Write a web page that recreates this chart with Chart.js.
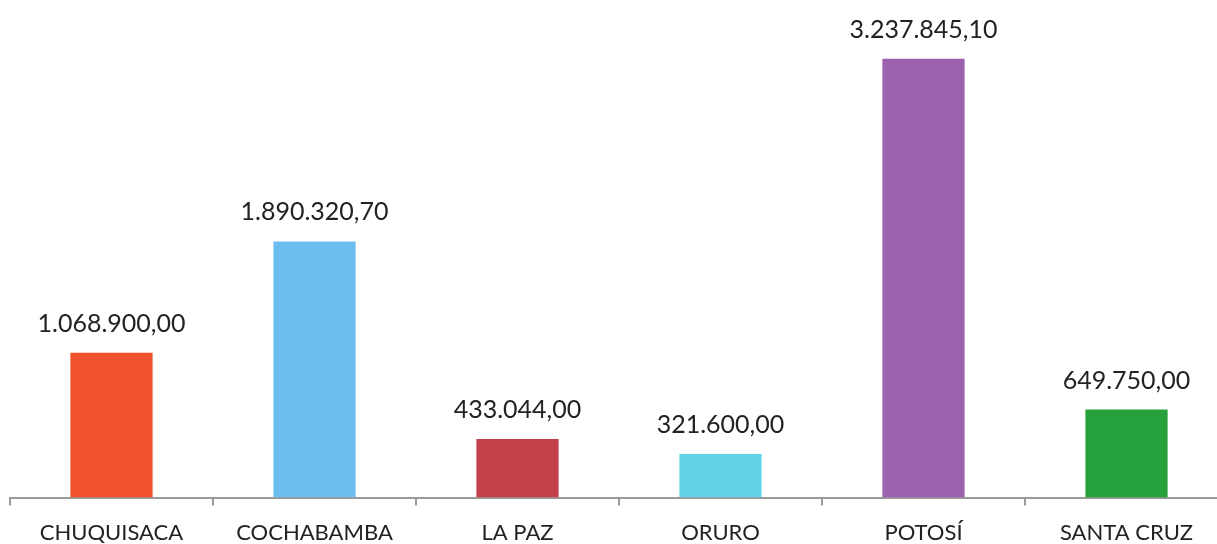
<!DOCTYPE html>
<html>
<head>
<meta charset="utf-8">
<script src="https://cdn.jsdelivr.net/npm/chart.js@4"></script>
<style>
  html, body { margin: 0; padding: 0; background: #fff; overflow: hidden; }
  #wrap { width: 1230px; height: 560px; }
</style>
</head>
<body>
<div id="wrap"><canvas id="chart"></canvas></div>
<script>
const departamentos = ["CHUQUISACA", "COCHABAMBA", "LA PAZ", "ORURO", "POTOSÍ", "SANTA CRUZ"];
const montos = [1068900.00, 1890320.70, 433044.00, 321600.00, 3237845.10, 649750.00];
const colores = ["#ef522d", "#6cbdf0", "#c2414a", "#5fd2e8", "#9c62b0", "#26a13c"];

// formato boliviano: 1.068.900,00
function formato(v) {
  let partes = v.toFixed(2).split(".");
  let entero = partes[0].replace(/\B(?=(\d{3})+(?!\d))/g, ".");
  return entero + "," + partes[1];
}

// etiquetas encima de cada barra
const etiquetas = {
  id: "etiquetas",
  afterDatasetsDraw(chart) {
    let ctx = chart.ctx;
    let meta = chart.getDatasetMeta(0);
    ctx.save();
    ctx.font = "25px Lato";
    ctx.fillStyle = "#222";
    ctx.textAlign = "center";
    ctx.textBaseline = "alphabetic";
    meta.data.forEach((bar, i) => {
      ctx.fillText(formato(montos[i]), bar.x, bar.y - 21);
    });
    ctx.restore();
  }
};

new Chart(document.getElementById("chart"), {
  type: "bar",
  data: {
    labels: departamentos,
    datasets: [{
      data: montos,
      backgroundColor: colores,
      barPercentage: 0.405,
      categoryPercentage: 1
    }]
  },
  options: {
    responsive: true,
    maintainAspectRatio: false,
    animation: false,
    layout: { padding: { left: 10, right: 2, top: 0, bottom: 0 } },
    plugins: { legend: { display: false }, tooltip: { enabled: false } },
    scales: {
      x: {
        offset: true,
        grid: { offset: true, drawOnChartArea: false, drawTicks: true, tickLength: 8, color: "#9a9a9a", lineWidth: 2 },
        border: { color: "#9a9a9a", width: 2 },
        ticks: { color: "#222", font: { family: "Lato", size: 22 }, padding: 14 }
      },
      y: {
        display: false,
        min: 0,
        max: 3672000
      }
    }
  },
  plugins: [etiquetas]
});
</script>
</body>
</html>
